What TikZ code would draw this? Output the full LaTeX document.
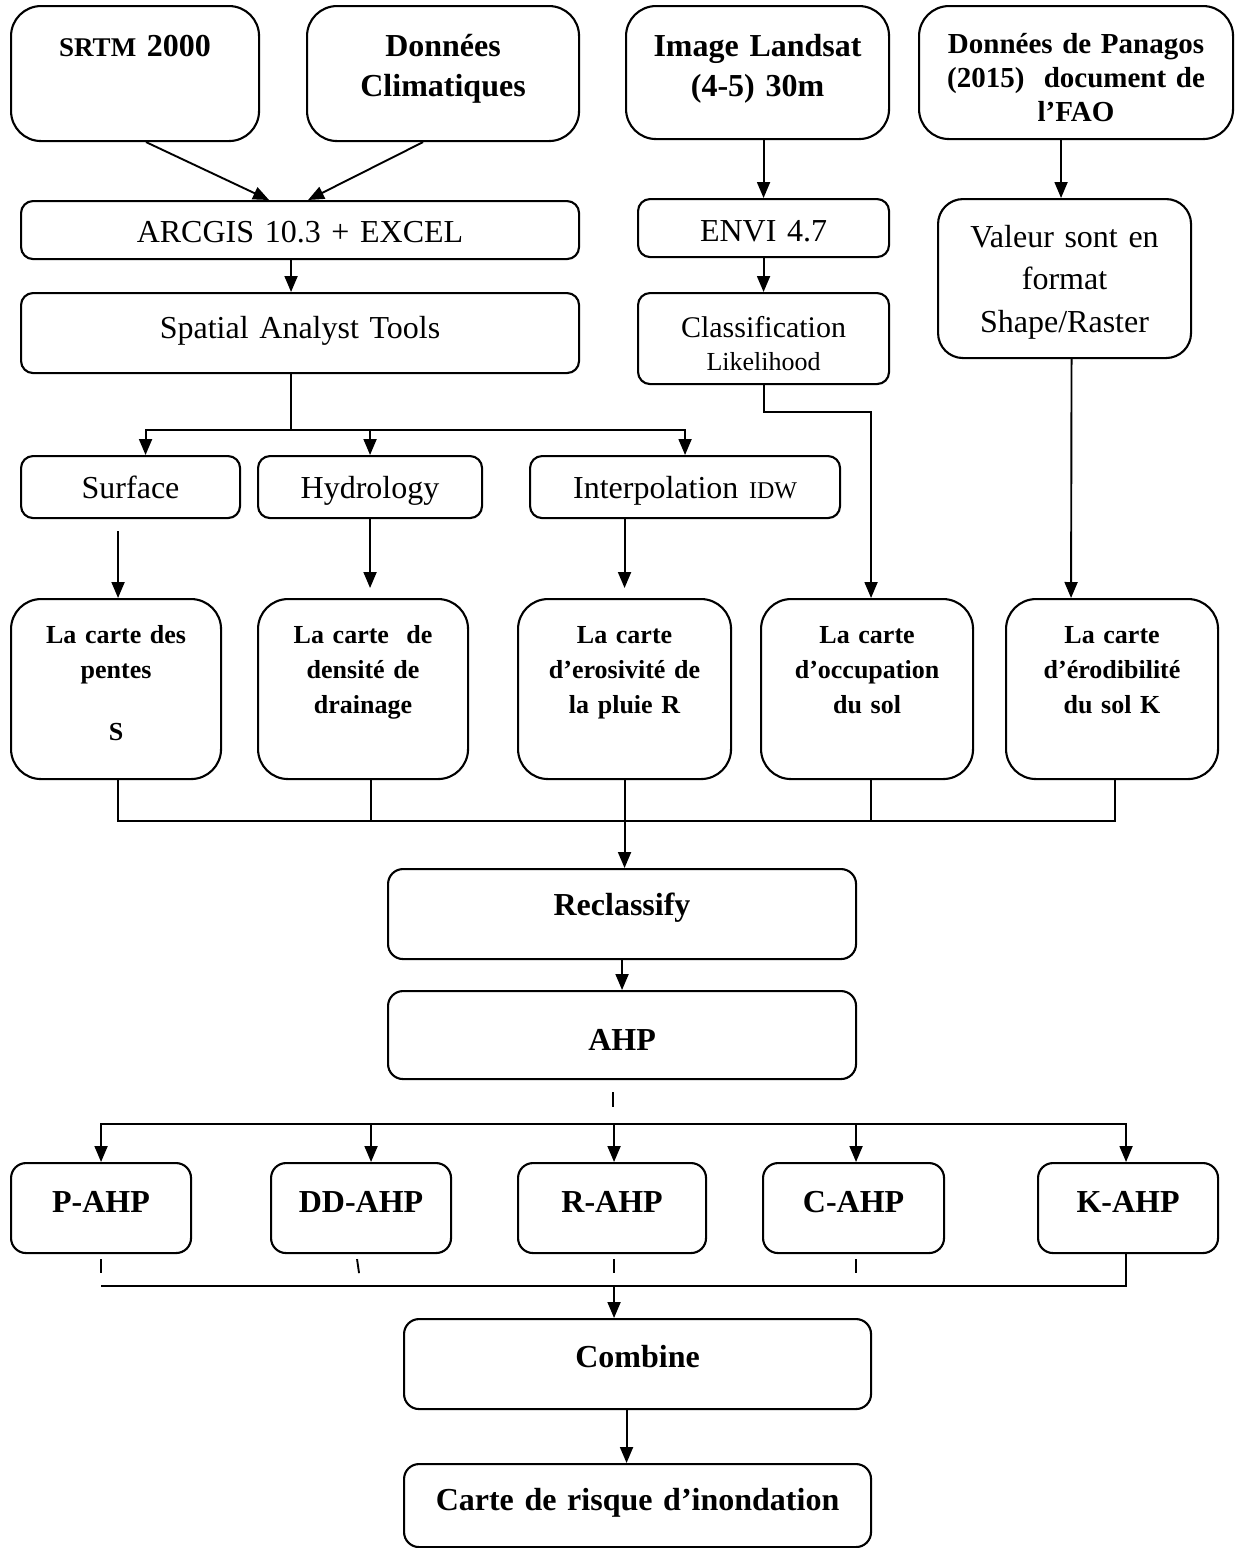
\documentclass[tikz,border=0pt]{standalone}
\usepackage{fontspec}
\setmainfont{Liberation Serif}
\usetikzlibrary{arrows.meta,calc}

\begin{document}
\begin{tikzpicture}[
  x=1pt, y=-1pt,
  box/.style={draw, line width=2.1pt, rounded corners=12pt, inner sep=0pt, align=center, anchor=north west},
  bigbox/.style={box, rounded corners=30pt},
  line/.style={line width=1.9pt},
  arrow/.style={line, -{Triangle[length=16pt,width=13pt]}},
  txt/.style={font=\fontsize{32}{40}\selectfont},
  btxt/.style={font=\fontsize{32}{40}\selectfont\bfseries},
  ctxt/.style={font=\fontsize{26}{35}\selectfont\bfseries}
]
\useasboundingbox (0,0) rectangle (1235,1548);

% sources
\node[bigbox, btxt, text width=248pt, text height=50pt, text depth=85pt] (srtm) at (10,5)
  {{\fontsize{27}{40}\selectfont SRTM} 2000};
\node[bigbox, btxt, text width=272pt, text height=50pt, text depth=85pt] (clim) at (306,5)
  {Données\\Climatiques};
\node[bigbox, btxt, text width=263pt, text height=50pt, text depth=83pt] (landsat) at (625,5)
  {Image Landsat\\(4-5) 30m};
\node[bigbox, btxt, font=\fontsize{29}{34}\selectfont\bfseries, text width=314pt, text height=47pt, text depth=86pt] (panagos) at (918,5)
  {Données de Panagos\\(2015)~ document de\\l’FAO};

% traitements
\node[box, txt, text width=558pt, text height=41pt, text depth=17pt] (arcgis) at (20,200) {ARCGIS 10.3 + EXCEL};
\node[box, txt, text width=558pt, text height=45pt, text depth=35pt] (spatial) at (20,292) {Spatial Analyst Tools};
\node[box, txt, text width=251pt, text height=42pt, text depth=16pt] (envi) at (637,198) {ENVI 4.7};
\node[box, font=\fontsize{30}{33}\selectfont, text width=251pt, text height=44pt, text depth=47pt] (classif) at (637,292)
  {Classification\\{\fontsize{26}{33}\selectfont Likelihood}};
\node[box, rounded corners=25pt, font=\fontsize{32}{42.5}\selectfont, text width=253pt, text height=48pt, text depth=111pt] (valeur) at (937,198)
  {Valeur sont en\\format\\Shape/Raster};

\node[box, txt, text width=219pt, text height=42pt, text depth=20pt] (surface) at (20,455) {Surface};
\node[box, txt, text width=224pt, text height=42pt, text depth=20pt] (hydro) at (257,455) {Hydrology};
\node[box, txt, text width=310pt, text height=42pt, text depth=20pt] (interp) at (529,455)
  {Interpolation {\fontsize{24}{40}\selectfont IDW}};

% cartes
\node[bigbox, ctxt, text width=210pt, text height=44pt, text depth=136pt] (pentes) at (10,598)
  {La carte des\\pentes\\[27pt]S};
\node[bigbox, ctxt, text width=210pt, text height=44pt, text depth=136pt] (drain) at (257,598)
  {La carte~ de\\densité de\\drainage};
\node[bigbox, ctxt, text width=213pt, text height=44pt, text depth=136pt] (erosiv) at (517,598)
  {La carte\\d’erosivité de\\la pluie R};
\node[bigbox, ctxt, text width=212pt, text height=44pt, text depth=136pt] (occup) at (760,598)
  {La carte\\d’occupation\\du sol};
\node[bigbox, ctxt, text width=212pt, text height=44pt, text depth=136pt] (erodib) at (1005,598)
  {La carte\\d’érodibilité\\du sol K};

\node[box, btxt, rounded corners=15pt, text width=468pt, text height=46pt, text depth=44pt] (reclass) at (387,868) {Reclassify};
\node[box, btxt, rounded corners=15pt, text width=468pt, text height=59pt, text depth=29pt] (ahp) at (387,990) {AHP};

% couches AHP
\node[box, btxt, rounded corners=15pt, text width=180pt, text height=49pt, text depth=41pt] (pahp) at (10,1162) {P-AHP};
\node[box, btxt, rounded corners=15pt, text width=180pt, text height=49pt, text depth=41pt] (ddahp) at (270,1162) {DD-AHP};
\node[box, btxt, rounded corners=15pt, text width=188pt, text height=49pt, text depth=41pt] (rahp) at (517,1162) {R-AHP};
\node[box, btxt, rounded corners=15pt, text width=181pt, text height=49pt, text depth=41pt] (cahp) at (762,1162) {C-AHP};
\node[box, btxt, rounded corners=15pt, text width=180pt, text height=49pt, text depth=41pt] (kahp) at (1037,1162) {K-AHP};

\node[box, btxt, rounded corners=15pt, text width=467pt, text height=48pt, text depth=42pt] (combine) at (403,1318) {Combine};
\node[box, btxt, rounded corners=15pt, text width=467pt, text height=46pt, text depth=37pt] (risque) at (403,1463) {Carte de risque d’inondation};

% connexions du haut
\draw[arrow] ([xshift=11pt]srtm.south) -- ([xshift=-31pt]arcgis.north);
\draw[arrow] ([xshift=-20pt]clim.south) -- ([xshift=8pt]arcgis.north);
\draw[arrow] ([xshift=-9pt]arcgis.south) -- ([xshift=-9pt]spatial.north);
\draw[line] ([xshift=-9pt]spatial.south) -- ++(0,56) coordinate (sbus);
\draw[arrow] (sbus) -| ([xshift=15pt]surface.north);
\draw[arrow] (sbus) -| (hydro.north);
\draw[arrow] (sbus) -| (interp.north);

\draw[arrow] (landsat.south -| envi.north) -- (envi.north);
\draw[arrow] (envi) -- (classif);
\draw[arrow] ([xshift=-15pt]panagos.south) -- ([xshift=-3.5pt]valeur.north);

\draw[arrow] (classif.south) -- ++(0,27) -| ([xshift=4pt]occup.north);
\draw[arrow] ([xshift=7pt]valeur.south) -- ([xshift=-41pt]erodib.north);

\draw[arrow] ($(surface.south -| pentes.north)+(2,12)$) -- ([xshift=2pt]pentes.north);
\draw[arrow] (hydro.south) -- ($(hydro.south |- drain.north)+(0,-10)$);
\draw[arrow] (interp.south -| erosiv.north) -- ($(erosiv.north)+(0,-10)$);

% vers Reclassify
\draw[line] ([xshift=2pt]pentes.south) -- ++(0,41) -| ([xshift=3pt]erodib.south);
\draw[line] ([xshift=8pt]drain.south) -- ++(0,41);
\draw[line] ([xshift=4pt]occup.south) -- ++(0,41);
\draw[arrow] (erosiv.south) -- (erosiv.south |- reclass.north);
\draw[arrow] (reclass) -- (ahp);

% AHP vers couches
\draw[line] ($(ahp.south)+(-9,12)$) -- ++(0,15);
\coordinate (abus) at ($(ahp.south)+(-9,44)$);
\draw[arrow] (abus) -| (pahp.north);
\draw[arrow] (abus) -| ([xshift=10pt]ddahp.north);
\draw[arrow] (abus) -| ([xshift=2pt]rahp.north);
\draw[arrow] (abus) -| ([xshift=2.5pt]cahp.north);
\draw[arrow] (abus) -| ([xshift=-2pt]kahp.north);

% couches vers Combine
\draw[line] ($(pahp.south)+(0,5)$) -- ++(0,14);
\draw[line] ($(ddahp.south)+(-4,5)$) -- ++(2,14);
\draw[line] ($(rahp.south)+(2,5)$) -- ++(0,14);
\draw[line] ($(cahp.south)+(2.5,5)$) -- ++(0,14);
\draw[line] ([xshift=-2pt]kahp.south) -- ++(0,32) -| ($(pahp.south)+(0,32)$);
\draw[arrow] ($(rahp.south)+(2,32)$) -- ($(rahp.south |- combine.north)+(2,0)$);
\draw[arrow] ([xshift=-11pt]combine.south) -- ([xshift=-11pt]risque.north);
\end{tikzpicture}
\end{document}
